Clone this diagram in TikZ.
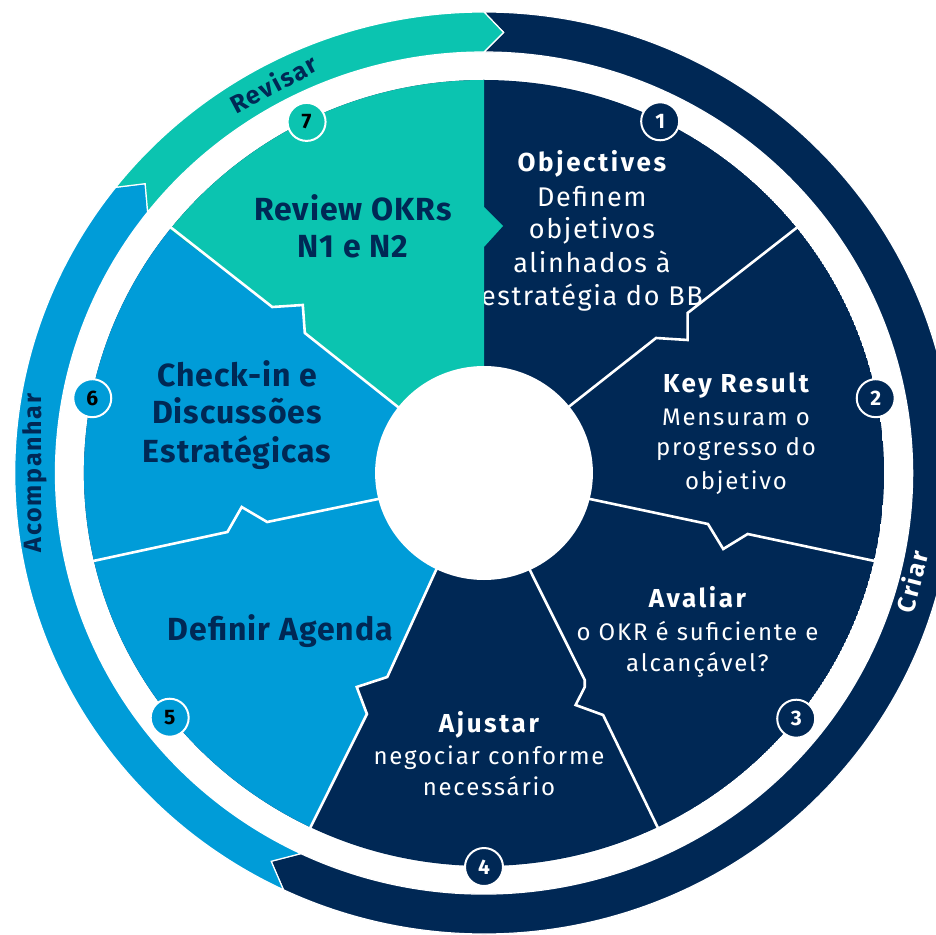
\documentclass[tikz,border=0pt]{standalone}
\usepackage{fontspec}
\setmainfont{Fira Sans}
\newfontfamily\fsegone[LetterSpace=6]{Fira Sans}
\newfontfamily\fseg[LetterSpace=7.5]{Fira Sans}
\newfontfamily\fhead[LetterSpace=10]{Fira Sans}
\newfontfamily\fnavy[LetterSpace=3]{Fira Sans}
\newfontfamily\fring[LetterSpace=7]{Fira Sans}
\definecolor{navy}{HTML}{002855}
\definecolor{bbteal}{HTML}{0BC4B0}
\definecolor{bbblue}{HTML}{009CD8}
\begin{document}
\begin{tikzpicture}[x=1pt,y=1pt,
  sep/.style={white,line width=2.6pt,line join=miter},
  ringsep/.style={draw=white,line width=1.2pt},
  numc/.style={circle,draw=white,line width=2pt,minimum size=38pt,inner sep=0pt,font=\bfseries\fontsize{21}{21}\selectfont},
  twone/.style={anchor=base,inner sep=0pt,text=white,font=\fsegone\fontsize{27}{27}\selectfont},
  tw/.style={anchor=base,inner sep=0pt,text=white,font=\fseg\fontsize{24}{24}\selectfont},
  twb/.style={anchor=base,inner sep=0pt,text=white,font=\fhead\bfseries\fontsize{26}{26}\selectfont},
  tn/.style={anchor=base,inner sep=0pt,text=navy,font=\fnavy\bfseries\fontsize{32}{32}\selectfont},
  ringlab/.style={inner sep=0pt,font=\fring\bfseries\fontsize{25}{25}\selectfont}
]
\useasboundingbox (-484,-461) rectangle (452,473);
\clip (-484,-461) rectangle (452,473);
\begin{scope}[xscale=1.018]
% outer ring
\fill[navy,ringsep] (90:461) arc[start angle=90, end angle=-115.3, radius=461] -- (-118.3:441) -- (-115.3:421) arc[start angle=-115.3, end angle=90, radius=421] -- (87.5:441) -- cycle;
\fill[bbblue,ringsep] (244.7:461) arc[start angle=244.7, end angle=141.7, radius=461] -- (139:441) -- (141.7:421) arc[start angle=141.7, end angle=244.7, radius=421] -- (241.7:441) -- cycle;
\fill[bbteal,ringsep] (141.7:461) arc[start angle=141.7, end angle=90, radius=461] -- (87.5:441) -- (90:421) arc[start angle=90, end angle=141.7, radius=421] -- (139:441) -- cycle;
% segments
\begin{scope}
\clip (0,0) circle (393);
\fill[navy] (0,0) circle (393);
\node[twb] (t1a) at (106,301) {Objectives};
\node[twone] (t1b) at (106,266) {Definem};
\node[twone] (t1c) at (106,234) {objetivos};
\node[twone] (t1d) at (106,200) {alinhados à};
\node[twone] (t1e) at (106,167) {estratégia do BB};
\fill[bbblue] (0,0) -- (-48,-99) -- (-95,-204) -- (-125,-214) -- (-115,-241) -- (-171,-356) -- (244.3:600) -- (192:600) -- (141.4:600) -- (-308,243) -- (-208,166) -- (-178,168) -- (-176,140) -- (-84.5,66) -- cycle;
\fill[bbteal] (0,0) -- (-84.5,66) -- (-176,140) -- (-178,168) -- (-208,166) -- (-308,243) -- (141.4:600) -- (90:600) -- (0,393) -- (0,266) -- (18.7,247) -- (0,226) -- (0,107) -- cycle;
\end{scope}
% separators
\draw[sep] (0,0) -- (85.5,68) -- (169,135) -- (200,133) -- (200,160) -- (38.6:405);
\draw[sep] (0,0) -- (104,-26) -- (220,-51) -- (235,-76) -- (259,-61) -- (-12.9:405);
\draw[sep] (0,0) -- (46,-99) -- (99,-207) -- (99,-214) -- (90,-232) -- (117,-242) -- (-64.3:405);
\draw[sep] (0,0) -- (-48,-99) -- (-95,-204) -- (-125,-214) -- (-115,-241) -- (244.3:405);
\draw[sep] (0,0) -- (-104,-26) -- (-213,-49) -- (-238,-34) -- (-252,-59) -- (192.9:405);
\draw[sep] (0,0) -- (-84.5,66) -- (-176,140) -- (-178,168) -- (-208,166) -- (141.4:405);
\fill[white] (0,0) circle (107);
% numbers
\node[numc,fill=navy,text=white] (n1) at (63.8:392) {1};
\node[numc,fill=navy,text=white] (n2) at (11:392) {2};
\node[numc,fill=navy,text=white] (n3) at (-38.7:393) {3};
\node[numc,fill=navy,text=white] (n4) at (-90:394) {4};
\node[numc,fill=bbblue,text=black] (n5) at (218.4:394) {5};
\node[numc,fill=bbblue,text=black] (n6) at (169:392) {6};
\node[numc,fill=bbteal,text=black] (n7) at (116.4:392) {7};
% texts
\node[twb] (t2a) at (247.5,80) {Key Result};
\node[tw] (t2b) at (247.5,48) {Mensuram o};
\node[tw] (t2c) at (247.5,18) {progresso do};
\node[tw] (t2d) at (247.5,-16) {objetivo};
\node[twb] (t3a) at (209.7,-134) {Avaliar};
\node[tw] (t3b) at (209.7,-167) {o OKR é suficiente e};
\node[tw] (t3c) at (209.7,-198) {alcançável?};
\node[twb] (t4a) at (4.9,-259) {Ajustar};
\node[tw] (t4b) at (4.9,-291) {negociar conforme};
\node[tw] (t4c) at (4.9,-322) {necessário};
\node[tn] (t5) at (-200,-167) {Definir Agenda};
\node[tn] (t6a) at (-242.6,86) {Check-in e};
\node[tn] (t6b) at (-242.6,49) {Discussões};
\node[tn] (t6c) at (-242.6,11) {Estratégicas};
\node[tn] (t7a) at (-128.7,252) {Review OKRs};
\node[tn] (t7b) at (-128.7,215) {N1 e N2};
% ring labels
\node[ringlab,text=white,rotate=75.5] (criar) at (-14.5:434) {Criar};
\node[ringlab,text=navy,rotate=90] (acomp) at (180:441) {Acompanhar};
\node[ringlab,text=navy,rotate=28] (revisar) at (118:441) {Revisar};
\end{scope}
\end{tikzpicture}
\end{document}
